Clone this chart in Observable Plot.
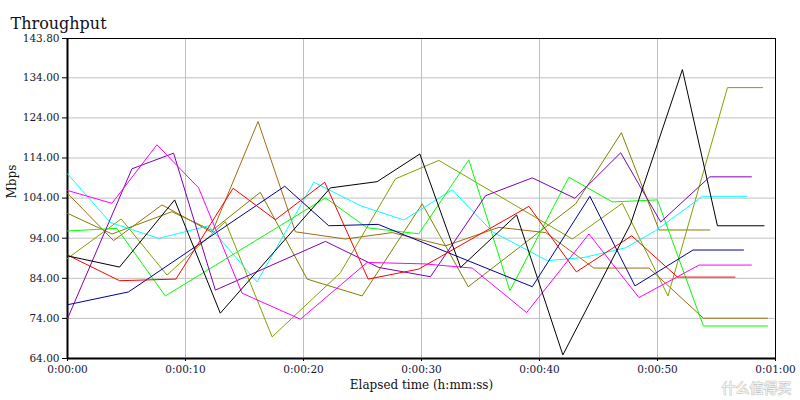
<!DOCTYPE html>
<html>
<head>
<meta charset="utf-8">
<script src="https://cdn.jsdelivr.net/npm/d3@7"></script>
<script src="https://cdn.jsdelivr.net/npm/@observablehq/plot@0.6"></script>
<style>
  html, body { margin: 0; padding: 0; background: #fff; }
  #chart svg { display: block; }
</style>
</head>
<body>
<div id="chart"></div>
<script>
// ---- data (elapsed seconds, Mbps) ----
const blackTime   = [0, 4.41, 9.08, 12.95, 22.28, 26.24, 29.86, 33.31, 38.06, 41.98, 47.73, 52.11, 55.08, 59.03];
const blackMbps   = [89.6, 86.8, 103.55, 75.3, 106.55, 108.1, 115.0, 86.7, 99.8, 64.9, 97.6, 136.05, 97.1, 97.1];

const redTime     = [0, 4.41, 9.19, 14.03, 17.62, 21.8, 25.48, 29.77, 39.1, 43.12, 47.81, 51.69, 56.57];
const redMbps     = [89.8, 83.4, 83.8, 106.45, 98.6, 107.95, 83.8, 86.3, 101.95, 85.6, 94.6, 84.3, 84.3];

const navyTime    = [0, 5.17, 18.41, 22.14, 26.33, 39.39, 44.27, 48.09, 53.01, 57.29];
const navyMbps    = [77.4, 80.6, 106.95, 97.1, 97.45, 81.9, 104.45, 82.1, 91.05, 91.05];

const purpleTime  = [0, 5.46, 8.99, 12.53, 21.86, 26.38, 30.76, 35.43, 39.39, 43.0, 46.88, 50.27, 54.43, 57.96];
const purpleMbps  = [73.95, 111.3, 115.2, 81.05, 93.2, 86.7, 84.4, 104.6, 109.05, 103.95, 115.3, 98.05, 109.3, 109.3];

const magentaTime = [0, 3.77, 7.58, 11.11, 14.79, 19.74, 25.39, 30.2, 34.3, 38.91, 44.19, 48.43, 53.52, 57.96];
const magentaMbps = [105.9, 102.7, 117.3, 106.55, 80.3, 73.8, 87.95, 87.6, 86.55, 75.45, 95.05, 79.2, 87.3, 87.3];

const cyanTime    = [0, 3.62, 7.72, 11.96, 16.06, 20.87, 24.83, 28.5, 32.6, 36.02, 40.66, 43.77, 47.3, 49.85, 53.81, 57.57];
const cyanMbps    = [110.05, 97.95, 93.95, 97.1, 83.1, 107.95, 102.1, 98.55, 106.05, 95.6, 88.4, 89.2, 91.6, 95.9, 104.45, 104.45];

const greenTime   = [0, 4.19, 8.29, 21.86, 25.39, 29.77, 34.01, 37.49, 42.49, 46.17, 49.99, 53.89, 59.32];
const greenMbps   = [95.8, 96.45, 79.6, 104.05, 96.6, 95.1, 113.55, 80.9, 109.2, 103.05, 103.55, 72.1, 72.1];

const brownTime   = [0, 3.9, 8.01, 12.25, 16.15, 19.31, 23.55, 27.51, 32.04, 36.56, 40.52, 44.61, 49.28, 53.89, 59.32];
const brownMbps   = [105.2, 93.4, 102.3, 95.45, 123.1, 95.6, 93.8, 95.4, 92.1, 96.7, 95.4, 86.55, 86.55, 74.05, 74.05];

const oliveTime   = [0, 3.77, 8.85, 12.25, 16.34, 20.31, 24.97, 30.06, 33.96, 43.06, 46.94, 50.13, 54.43];
const oliveMbps   = [100.2, 95.05, 100.6, 95.9, 105.45, 83.8, 79.6, 102.55, 81.9, 102.55, 120.3, 96.05, 96.05];

const lawnTime    = [0, 4.55, 8.43, 13.38, 17.34, 23.13, 27.79, 31.47, 42.78, 47.02, 50.89, 55.93, 58.9];
const lawnMbps    = [88.95, 98.8, 84.8, 98.1, 69.4, 85.4, 108.8, 113.4, 93.8, 102.7, 79.6, 131.55, 131.55];

const seriesNames  = ["brown", "olive", "lawn", "cyan", "green", "navy", "purple", "magenta", "red", "black"];
const seriesColors = ["#a06c10", "#808000", "#84a000", "#00ffff", "#00ff00", "#000099", "#8000b8", "#ff00ff", "#ff0000", "#000000"];
const seriesTimes  = [brownTime, oliveTime, lawnTime, cyanTime, greenTime, navyTime, purpleTime, magentaTime, redTime, blackTime];
const seriesValues = [brownMbps, oliveMbps, lawnMbps, cyanMbps, greenMbps, navyMbps, purpleMbps, magentaMbps, redMbps, blackMbps];

const xTicks = [0, 10, 20, 30, 40, 50, 60];
const yTicks = [64, 74, 84, 94, 104, 114, 124, 134, 143.8];

const titleText = "Throughput";
const xLabel = "Elapsed time (h:mm:ss)";
const yLabel = "Mbps";
const watermark = "什么值得买";

// ---- build table ----
const rows = [];
seriesNames.forEach((name, i) => {
  seriesTimes[i].forEach((t, j) => rows.push({series: name, t, v: seriesValues[i][j]}));
});

const fmtTime = s => {
  const m = Math.floor(s / 60), sec = s % 60;
  return `0:${String(m).padStart(2, "0")}:${String(sec).padStart(2, "0")}`;
};

const FONT = "'DejaVu Serif', 'Liberation Serif', serif";

const chart = Plot.plot({
  width: 800,
  height: 400,
  marginLeft: 67,
  marginRight: 25,
  marginTop: 38,
  marginBottom: 42,
  style: {fontFamily: FONT, fontSize: "11px", background: "#fff", overflow: "visible"},
  x: {domain: [0, 60], axis: null},
  y: {domain: [64, 143.8], axis: null},
  color: {domain: seriesNames, range: seriesColors},
  marks: [
    Plot.gridX(xTicks, {stroke: "#c0c0c0", strokeOpacity: 1, strokeWidth: 1}),
    Plot.gridY(yTicks, {stroke: "#c0c0c0", strokeOpacity: 1, strokeWidth: 1}),
    Plot.frame({stroke: "#000", strokeWidth: 1}),
    Plot.axisY(yTicks, {
      tickSize: 5, tickPadding: 3, tickFormat: d => d.toFixed(2),
      fontSize: 10.5, fill: "#201818", stroke: "#000", label: null
    }),
    Plot.axisX(xTicks, {
      tickSize: 3, tickPadding: 4, tickFormat: fmtTime,
      fontSize: 10.5, fill: "#14143c", stroke: "#000", label: null
    }),
    Plot.ruleX([0], {stroke: "#000", strokeWidth: 2}),
    Plot.ruleY([64], {stroke: "#000", strokeWidth: 2}),
    Plot.line(rows, {x: "t", y: "v", z: "series", stroke: "series", strokeWidth: 1, curve: "linear"}),
    Plot.text([titleText], {frameAnchor: "top-left", dx: -57, dy: -21, textAnchor: "start",
      fontSize: 16, fill: "#101020", fontFamily: FONT}),
    Plot.text([xLabel], {frameAnchor: "bottom", dy: 30, fontSize: 12, fill: "#101010", fontFamily: FONT}),
    Plot.text([yLabel], {frameAnchor: "left", dx: -55, rotate: -90, fontSize: 12, fill: "#101010", fontFamily: FONT}),
    Plot.text([watermark], {frameAnchor: "bottom-right", dx: 16, dy: 34, textAnchor: "end",
      fontSize: 14, fill: "#ffffff", fillOpacity: 0.85, stroke: "#c4c4c4", strokeWidth: 1,
      fontFamily: "'Noto Sans CJK SC', sans-serif"})
  ]
});

document.getElementById("chart").appendChild(chart);
</script>
</body>
</html>
